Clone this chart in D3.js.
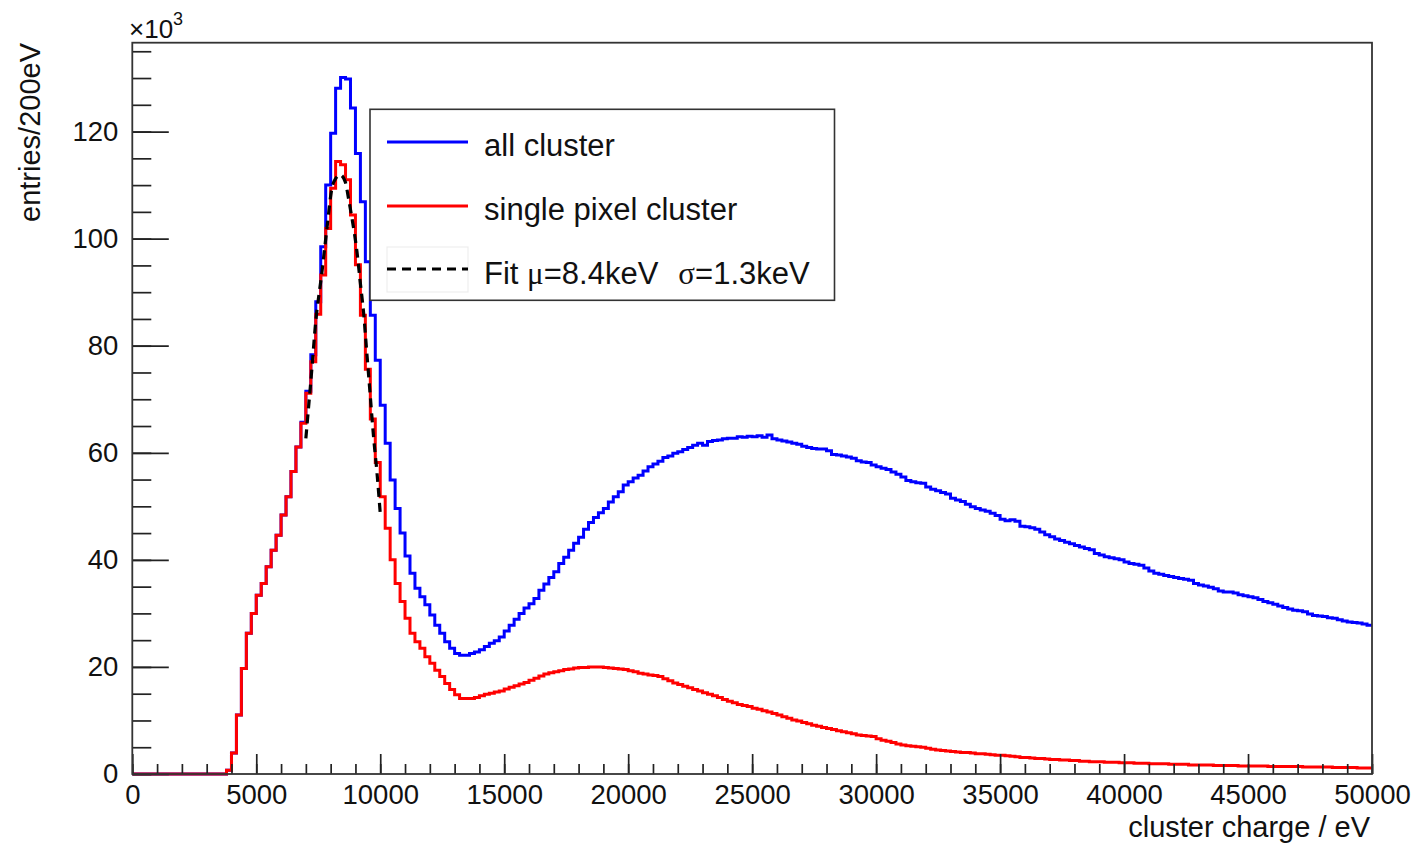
<!DOCTYPE html>
<html><head><meta charset="utf-8">
<script src="https://cdn.jsdelivr.net/npm/d3@7"></script>
<style>
body{margin:0;background:#fff;}
svg text{font-family:"Liberation Sans",Arial,Helvetica,sans-serif;fill:#111;}
</style></head><body>
<svg id="chart" width="1417" height="843"></svg>
<script>
// ---------- data (entries per 200 eV, in units of 10^3) ----------
const binWidth = 200;
const xDomain = [0, 50000];
const yDomain = [0, 136.6];
const xTickValues = [0, 5000, 10000, 15000, 20000, 25000, 30000, 35000, 40000, 45000, 50000];
const yTickValues = [0, 20, 40, 60, 80, 100, 120];
const xMinorTickValues = d3.range(0, 50001, 1000);
const yMinorTickValues = d3.range(0, 136, 5);

const allCluster = [
  0,0,0,0,0,0,0,0,0,0,
  0,0,0,0,0,0,0,0,0,0.7,
  3.9,11.0,19.7,26.3,30.0,33.4,35.6,38.7,41.8,44.6,
  48.4,51.8,56.5,61.1,65.7,71.5,78.3,88.2,98.5,110.0,
  119.7,128.1,130.1,129.8,124.4,115.9,106.9,95.7,85.7,77.3,
  68.9,61.8,54.9,49.6,45.0,40.7,37.5,34.7,33.1,31.6,
  29.7,27.8,26.3,24.7,23.5,22.5,22.2,22.2,22.5,22.8,
  23.2,23.8,24.4,24.9,25.6,26.7,27.8,28.9,30.0,31.0,
  31.8,32.8,34.3,35.5,36.7,37.8,39.3,40.5,41.8,43.1,
  44.2,45.7,47.0,47.9,48.8,49.6,50.8,51.8,52.7,54.0,
  54.6,55.3,55.8,56.6,57.4,57.9,58.4,59.1,59.4,59.9,
  60.2,60.6,61.0,61.4,61.8,61.4,62.1,62.3,62.4,62.6,
  62.7,62.7,63.0,62.9,63.1,63.0,63.2,62.9,63.3,62.6,
  62.4,62.2,62.0,61.8,61.6,61.2,61.0,60.8,60.7,60.7,
  60.4,59.7,59.6,59.4,59.2,59.0,58.5,58.3,58.2,57.7,
  57.4,57.1,56.9,56.4,56.0,55.5,54.8,54.6,54.4,54.3,
  53.6,53.2,52.9,52.6,52.3,51.5,51.2,50.9,50.4,49.9,
  49.6,49.3,49.1,48.7,48.3,47.6,47.3,47.5,47.2,46.3,
  46.2,46.0,45.7,45.2,44.7,44.3,43.9,43.6,43.3,43.0,
  42.7,42.4,42.1,41.9,41.2,40.9,40.6,40.4,40.2,40.0,
  39.6,39.3,39.2,39.0,38.5,37.9,37.5,37.3,37.1,36.9,
  36.7,36.5,36.4,36.2,35.6,35.3,35.1,34.9,34.6,34.2,
  34.0,34.0,33.8,33.5,33.3,33.1,32.9,32.6,32.2,32.0,
  31.7,31.4,31.1,30.8,30.6,30.5,30.3,29.9,29.6,29.5,
  29.4,29.2,29.1,28.8,28.6,28.4,28.3,28.2,28.0,27.8
];

const singlePixel = [
  0,0,0,0,0,0,0,0,0,0,
  0,0,0,0,0,0,0,0,0,0.7,
  3.9,11.0,19.7,26.3,30.0,33.4,35.6,38.7,41.8,44.6,
  48.4,51.8,56.5,61.1,65.5,71.1,77.0,85.9,93.2,101.9,
  109.4,114.4,113.8,111.0,104.4,95.1,85.7,75.6,66.3,58.2,
  51.8,45.9,40.0,35.6,32.2,29.1,26.3,24.7,23.5,21.9,
  20.7,19.4,18.2,16.9,15.8,14.8,14.1,14.1,14.1,14.3,
  14.6,14.9,15.1,15.3,15.5,15.9,16.2,16.5,16.8,17.1,
  17.5,17.9,18.3,18.7,18.9,19.1,19.3,19.5,19.6,19.8,
  19.9,19.9,20.0,20.0,20.0,19.9,19.8,19.7,19.6,19.5,
  19.3,19.1,18.8,18.7,18.5,18.4,18.2,17.8,17.4,17.0,
  16.7,16.4,16.1,15.8,15.5,15.2,14.9,14.6,14.3,13.9,
  13.6,13.3,13.0,12.8,12.6,12.3,12.1,11.8,11.6,11.3,
  11.0,10.7,10.4,10.1,9.9,9.6,9.4,9.1,8.9,8.7,
  8.5,8.3,8.1,7.9,7.7,7.5,7.3,7.2,7.1,7.0,
  6.6,6.3,6.1,5.9,5.6,5.4,5.3,5.2,5.1,5.0,
  4.8,4.6,4.5,4.4,4.3,4.2,4.1,4.0,4.0,3.9,
  3.8,3.8,3.7,3.6,3.5,3.5,3.4,3.3,3.2,3.1,
  3.1,3.0,2.9,2.9,2.8,2.7,2.7,2.6,2.6,2.5,
  2.5,2.4,2.4,2.3,2.3,2.3,2.2,2.2,2.2,2.1,
  2.1,2.1,2.0,2.0,2.0,1.9,1.9,1.9,1.9,1.8,
  1.8,1.8,1.8,1.7,1.7,1.7,1.7,1.7,1.6,1.6,
  1.6,1.6,1.6,1.5,1.5,1.5,1.5,1.5,1.5,1.4,
  1.4,1.4,1.4,1.4,1.4,1.4,1.3,1.3,1.3,1.3,
  1.3,1.3,1.2,1.2,1.2,1.2,1.2,1.1,1.1,1.1
];

// Gaussian fit curve
const fitCharge = [7000,7100,7250,7380,7650,7850,8050,8200,8390,8590,8720,8860,9060,9190,9330,9470,9600,9730,9870,10000];
const fitValue  = [62.7,68.0,76.1,83.6,93.8,101.9,109.4,111.2,111.9,110.6,107.5,103.8,97.6,92.0,86.1,78.0,70.5,63.0,56.2,48.7];

const seriesNames = ["all cluster", "single pixel cluster"];
const seriesColors = ["#0000ff", "#ff0000"];
const xTitle = "cluster charge / eV";
const yTitle = "entries/200eV";

// ---------- drawing ----------
const svg = d3.select("#chart");
const m = {left: 132.3, right: 1372, top: 42.7, bottom: 774};
const x = d3.scaleLinear().domain(xDomain).range([m.left, m.right]);
const y = d3.scaleLinear().domain(yDomain).range([m.bottom, m.top]);

svg.append("rect").attr("width", 1417).attr("height", 843).attr("fill", "#fff");

function histPoints(vals) {
  const pts = vals.map((v, i) => [i * binWidth, v]);
  pts.push([vals.length * binWidth, vals[vals.length - 1]]);
  return pts;
}
const stepLine = d3.line().x(d => x(d[0])).y(d => y(d[1])).curve(d3.curveStepAfter);

const plot = svg.append("g");
[allCluster, singlePixel].forEach((vals, k) => {
  plot.append("path")
    .attr("d", stepLine(histPoints(vals)))
    .attr("fill", "none")
    .attr("stroke", seriesColors[k])
    .attr("stroke-width", 3)
    .attr("stroke-linejoin", "miter");
});

const fitLine = d3.line().x((d, i) => x(fitCharge[i])).y(d => y(d)).curve(d3.curveMonotoneX);
plot.append("path")
  .attr("d", fitLine(fitValue))
  .attr("fill", "none")
  .attr("stroke", "#000")
  .attr("stroke-width", 3.2)
  .attr("stroke-dasharray", "9,6");

// axes
const axisColor = "#222";
const gxMinor = svg.append("g").attr("transform", `translate(0,${m.bottom})`)
  .call(d3.axisBottom(x).tickValues(xMinorTickValues).tickSize(-10).tickFormat(""));
const gx = svg.append("g").attr("transform", `translate(0,${m.bottom})`)
  .call(d3.axisBottom(x).tickValues(xTickValues).tickSize(-20).tickPadding(10).tickFormat(d3.format("d")));
const gyMinor = svg.append("g").attr("transform", `translate(${m.left},0)`)
  .call(d3.axisLeft(y).tickValues(yMinorTickValues).tickSize(-19).tickFormat(""));
const gy = svg.append("g").attr("transform", `translate(${m.left},0)`)
  .call(d3.axisLeft(y).tickValues(yTickValues).tickSize(-36.5).tickPadding(14).tickFormat(d3.format("d")));
[gxMinor, gx, gyMinor, gy].forEach(g => {
  g.select(".domain").remove();
  g.selectAll("line").attr("stroke", axisColor).attr("stroke-width", 1.7);
  g.selectAll("text").attr("font-size", 27.5).attr("fill", "#111")
    .style("font-family", '"Liberation Sans", Arial, sans-serif');
});

// frame
svg.append("rect")
  .attr("x", m.left).attr("y", m.top)
  .attr("width", m.right - m.left).attr("height", m.bottom - m.top)
  .attr("fill", "none").attr("stroke", "#333").attr("stroke-width", 1.8);

// exponent label
const ex = svg.append("text").attr("x", 129).attr("y", 38).attr("font-size", 26);
ex.append("tspan").text("\u00d710");
ex.append("tspan").attr("font-size", 18).attr("dy", -13).text("3");

// titles
svg.append("text").attr("x", 1370).attr("y", 837).attr("text-anchor", "end")
  .attr("font-size", 29).text(xTitle);
svg.append("text").attr("transform", "translate(40,43) rotate(-90)")
  .attr("text-anchor", "end").attr("font-size", 29).text(yTitle);

// legend
const lg = svg.append("g");
lg.append("rect").attr("x", 370).attr("y", 109.3).attr("width", 464.5).attr("height", 191)
  .attr("fill", "#fff").attr("stroke", "#333").attr("stroke-width", 1.6);
const rowY = [142, 206, 269];
[0, 1].forEach(k => {
  lg.append("line").attr("x1", 387).attr("x2", 468).attr("y1", rowY[k]).attr("y2", rowY[k])
    .attr("stroke", seriesColors[k]).attr("stroke-width", 3);
  lg.append("text").attr("x", 484).attr("y", rowY[k] + 13.5).attr("font-size", 31).text(seriesNames[k]);
});
lg.append("rect").attr("x", 387).attr("y", 247).attr("width", 81).attr("height", 45)
  .attr("fill", "none").attr("stroke", "#eee").attr("stroke-width", 1.2);
lg.append("line").attr("x1", 387).attr("x2", 468).attr("y1", rowY[2]).attr("y2", rowY[2])
  .attr("stroke", "#000").attr("stroke-width", 3.2).attr("stroke-dasharray", "9,6");
const serif = '"Liberation Serif","DejaVu Serif",serif';
const ft = lg.append("text").attr("x", 484).attr("y", rowY[2] + 15).attr("font-size", 31);
ft.append("tspan").text("Fit ");
ft.append("tspan").style("font-family", serif).text("\u03bc");
ft.append("tspan").text("=8.4keV");
ft.append("tspan").attr("dx", 20).style("font-family", serif).text("\u03c3");
ft.append("tspan").text("=1.3keV");
</script>
</body></html>
